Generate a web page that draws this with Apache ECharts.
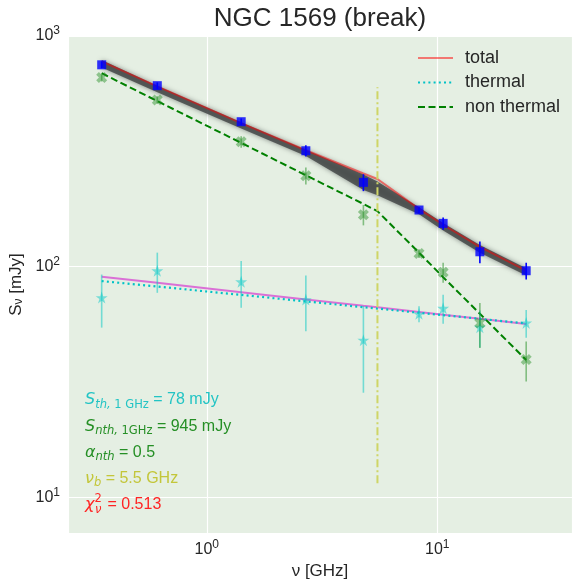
<!DOCTYPE html>
<html>
<head>
<meta charset="utf-8">
<script src="https://cdn.jsdelivr.net/npm/echarts@6/dist/echarts.min.js"></script>
<style>
  html, body { margin: 0; padding: 0; background: #ffffff; }
  #chart { width: 573px; height: 584px; }
</style>
</head>
<body>
<div id="chart"></div>
<script>
// ---- Observed spectrum of NGC 1569 ----
// Observing frequencies (GHz)
const freq = [0.35, 0.61, 1.41, 2.69, 4.78, 8.33, 10.6, 15.3, 24.3];
// Total flux density and 1-sigma errors (mJy)
const totalFlux = [750, 609, 425, 318, 232, 176, 154, 116, 96];
const totalErr = [25, 20, 14, 18, 19.5, 5, 9.5, 12.5, 8];
// Non-thermal part of the observed flux (mJy)
const nonThermalFlux = [660, 528, 348, 248, 168, 114, 94.6, 57, 39.6];
const nonThermalErr = [25, 20, 20, 21, 17, 5, 9.4, 12.6, 7.8];
// Thermal part of the observed flux (mJy)
const thermalFlux = [73.4, 96, 86, 72, 48, 62.4, 66, 54.6, 57];
const thermalErr = [19, 19, 19.7, 19.5, 19.6, 5, 9.5, 10, 7.8];

// ---- Fitted model (evaluated at the data frequencies and the break) ----
const modelFreq = [0.35, 0.61, 1.41, 2.69, 4.78, 5.5, 8.33, 10.6, 15.3, 24.3];
const modelTotal = [776.6, 604.5, 419.1, 319.5, 253.3, 239.8, 178, 151.9, 121.9, 96.1];
const modelThermal = [86.6, 82.0, 75.4, 70.7, 66.7, 65.8, 63.1, 61.6, 59.4, 56.7];
const modelNonThermal = [690, 522, 344, 249, 187, 174, 115, 90, 62.5, 39.4];
const modelThermalAlt = [90.5, 85.1, 77.5, 72.1, 67.6, 66.6, 63.6, 61.9, 59.4, 56.4];
// Envelope of the posterior samples of the total model (mJy)
const bandUpper = [786, 609, 423, 321.5, 251, 234, 181, 154.5, 124, 98.5];
const bandLower = [731, 571, 397, 302, 215, 204, 168.5, 143.5, 115, 91.5];

// Break frequency marker (GHz) and its vertical extent (mJy)
const breakFreq = 5.5;
const breakSpan = [11.5, 600];

// Fit parameters printed on the panel
const sTh1GHz = 78;
const sNth1GHz = 945;
const alphaNth = 0.5;
const nuBreak = 5.5;
const chi2Red = 0.513;

// Decade tick values
const xTicks = [1, 10];
const yTicks = [10, 100, 1000];

const TXT = '#262626';
const SANS = 'Liberation Sans';
const MATH = 'DejaVu Sans';

function zip(xs, ys) { return xs.map((x, i) => [x, ys[i]]); }

function decadeLabel(ticks) {
  return function (v) {
    const hit = ticks.find(t => Math.abs(Math.log10(t) - Math.log10(v)) < 1e-6);
    if (hit === undefined) return '';
    return '{b|10}{s|' + Math.round(Math.log10(hit)) + '}';
  };
}
const tickRich = {
  b: { fontFamily: SANS, fontSize: 16, color: TXT, lineHeight: 22 },
  s: { fontFamily: SANS, fontSize: 12, color: TXT, lineHeight: 12, verticalAlign: 'top' }
};

function errorBars(xs, ys, errs, color, width) {
  return {
    type: 'custom',
    silent: true,
    z: 4,
    encode: { x: 0, y: [1, 2] },
    data: xs.map((x, i) => [x, ys[i] - errs[i], ys[i] + errs[i]]),
    renderItem: function (params, api) {
      const p1 = api.coord([api.value(0), api.value(1)]);
      const p2 = api.coord([api.value(0), api.value(2)]);
      return {
        type: 'line',
        shape: { x1: p1[0], y1: p1[1], x2: p2[0], y2: p2[1] },
        style: { stroke: color, lineWidth: width }
      };
    }
  };
}

const STAR = 'path://M0.5,0L0.6123,0.3455L0.9755,0.3455L0.6817,0.559L0.7939,0.9045L0.5,0.691L0.2061,0.9045L0.3183,0.559L0.0245,0.3455L0.3877,0.3455Z';
const XMARK = 'path://M0.25,0L0.5,0.25L0.75,0L1,0.25L0.75,0.5L1,0.75L0.75,1L0.5,0.75L0.25,1L0,0.75L0.25,0.5L0,0.25Z';

const chart = echarts.init(document.getElementById('chart'), null, { renderer: 'canvas' });

const option = {
  animation: false,
  backgroundColor: '#ffffff',
  title: {
    text: 'NGC 1569 (break)',
    left: 320,
    top: 6,
    padding: 0,
    textAlign: 'center',
    textStyle: { fontFamily: SANS, fontSize: 26, fontWeight: 'normal', color: TXT }
  },
  legend: {
    data: ['total', 'thermal', 'non thermal'],
    orient: 'vertical',
    left: 417,
    top: 49,
    padding: 0,
    itemWidth: 35,
    itemHeight: 2,
    itemGap: 6.5,
    selectedMode: false,
    itemStyle: { opacity: 0 },
    textStyle: { fontFamily: SANS, fontSize: 18, color: TXT, padding: [0, 0, 0, 7] }
  },
  grid: {
    left: 68, right: 1, top: 36, bottom: 51,
    show: true, backgroundColor: '#e5efe3', borderWidth: 0,
    containLabel: false, outerBoundsMode: 'none'
  },
  xAxis: {
    type: 'log', logBase: 10, min: 0.25, max: 38.4,
    axisLine: { show: false }, axisTick: { show: false },
    splitLine: { show: true, lineStyle: { color: '#ffffff', width: 1.2 } },
    axisLabel: { margin: 6, formatter: decadeLabel(xTicks), rich: tickRich },
    name: 'ν [GHz]', nameLocation: 'middle', nameGap: 30,
    nameTextStyle: { fontFamily: SANS, fontSize: 17, color: TXT }
  },
  yAxis: {
    type: 'log', logBase: 10, min: 7.0, max: 1000,
    axisLine: { show: false }, axisTick: { show: false },
    splitLine: { show: true, lineStyle: { color: '#ffffff', width: 1.2 } },
    axisLabel: { margin: 8, formatter: decadeLabel(yTicks), rich: tickRich },
    name: 'S{sub|ν} [mJy]', nameLocation: 'middle', nameGap: 40,
    nameTextStyle: {
      fontFamily: SANS, fontSize: 17, color: TXT,
      rich: { sub: { fontFamily: SANS, fontSize: 12, color: TXT, verticalAlign: 'bottom' } }
    }
  },
  series: [
    {
      // posterior envelope of the total model
      type: 'custom', silent: true, z: 1,
      encode: { x: 0, y: [1, 2] },
      data: modelFreq.map((f, i) => [f, bandUpper[i], bandLower[i]]),
      renderItem: function (params, api) {
        if (params.dataIndexInside !== 0) return null;
        const n = params.dataInsideLength;
        const pts = [];
        for (let j = 0; j < n; j++) pts.push(api.coord([api.value(0, j), api.value(1, j)]));
        for (let j = n - 1; j >= 0; j--) pts.push(api.coord([api.value(0, j), api.value(2, j)]));
        return {
          type: 'polygon',
          shape: { points: pts },
          style: { fill: 'rgba(62,66,66,0.8)', shadowBlur: 5, shadowColor: 'rgba(62,66,66,0.75)' }
        };
      }
    },
    {
      name: 'thermal model (alt)', type: 'line', symbol: 'none', z: 2, silent: true,
      data: zip(modelFreq, modelThermalAlt),
      lineStyle: { color: 'orchid', width: 2 }
    },
    {
      name: 'thermal', type: 'line', symbol: 'none', z: 2, silent: true,
      data: zip(modelFreq, modelThermal),
      lineStyle: { color: '#00c2c6', width: 2.2, type: [2, 3.2] },
      itemStyle: { color: '#00c2c6' }
    },
    {
      name: 'non thermal', type: 'line', symbol: 'none', z: 2, silent: true,
      data: zip(modelFreq, modelNonThermal),
      lineStyle: { color: '#008000', width: 2, type: [7, 3.5] },
      itemStyle: { color: '#008000' }
    },
    {
      name: 'total', type: 'line', symbol: 'none', z: 3, silent: true,
      data: zip(modelFreq, modelTotal),
      lineStyle: { color: 'rgba(255,0,0,0.5)', width: 2 },
      itemStyle: { color: 'rgba(255,0,0,0.5)' }
    },
    {
      name: 'break', type: 'line', symbol: 'none', z: 3, silent: true,
      data: [[breakFreq, breakSpan[0]], [breakFreq, breakSpan[1]]],
      lineStyle: { color: '#cfd566', width: 2, type: [8, 3, 2, 3] }
    },
    errorBars(freq, thermalFlux, thermalErr, 'rgba(0,200,195,0.5)', 1.6),
    errorBars(freq, nonThermalFlux, nonThermalErr, 'rgba(30,140,30,0.5)', 1.6),
    errorBars(freq, totalFlux, totalErr, '#0000ff', 1.6),
    {
      type: 'scatter', z: 5, silent: true,
      data: zip(freq, thermalFlux), symbol: STAR, symbolSize: 12,
      itemStyle: { color: 'rgba(0,200,200,0.6)' }
    },
    {
      type: 'scatter', z: 5, silent: true,
      data: zip(freq, nonThermalFlux), symbol: XMARK, symbolSize: 11,
      itemStyle: { color: 'rgba(30,140,30,0.55)' }
    },
    {
      type: 'scatter', z: 6, silent: true,
      data: zip(freq, totalFlux), symbol: 'rect', symbolSize: 9,
      itemStyle: { color: '#0000ff' }
    }
  ],
  graphic: (function () {
    const it = (c) => ({ fontFamily: MATH, fontStyle: 'italic', fontSize: 16, lineHeight: 22, fill: c });
    const sit = (c) => ({ fontFamily: MATH, fontStyle: 'italic', fontSize: 11.5, lineHeight: 12, verticalAlign: 'bottom', fill: c });
    const srm = (c) => ({ fontFamily: MATH, fontSize: 11.5, lineHeight: 12, verticalAlign: 'bottom', fill: c });
    const txt = (c) => ({ fontFamily: SANS, fontSize: 16, lineHeight: 22, fill: c });
    const row = (y, c, text) => ({
      type: 'text', x: 85, y: y, z: 10, silent: true,
      style: { text: text, rich: { i: it(c), si: sit(c), s: srm(c), t: txt(c) }, verticalAlign: 'middle', fill: c }
    });
    const cTh = '#22c4c4', cNth = '#258f25', cNu = '#c3c63a', cChi = '#ff2424';
    return [
      row(400, cTh, '{i|S}{si|th, }{s|1 GHz}{t| = ' + sTh1GHz + ' mJy}'),
      row(426.5, cNth, '{i|S}{si|nth, }{s|1GHz}{t| = ' + sNth1GHz + ' mJy}'),
      row(452.5, cNth, '{i|α}{si|nth}{t| = ' + alphaNth + '}'),
      row(478.5, cNu, '{i|ν}{si|b}{t| = ' + nuBreak + ' GHz}'),
      { type: 'text', x: 85, y: 505, z: 10, silent: true,
        style: { text: 'χ', font: 'italic 16px "DejaVu Sans"', fill: cChi, verticalAlign: 'middle' } },
      { type: 'text', x: 94.5, y: 499, z: 10, silent: true,
        style: { text: '2', font: '11.5px "DejaVu Sans"', fill: cChi, verticalAlign: 'middle' } },
      { type: 'text', x: 95, y: 510, z: 10, silent: true,
        style: { text: 'ν', font: 'italic 11.5px "DejaVu Sans"', fill: cChi, verticalAlign: 'middle' } },
      { type: 'text', x: 103, y: 505, z: 10, silent: true,
        style: { text: ' = ' + chi2Red, font: '16px "Liberation Sans"', fill: cChi, verticalAlign: 'middle' } }
    ];
  })()
};

chart.setOption(option);
</script>
</body>
</html>
